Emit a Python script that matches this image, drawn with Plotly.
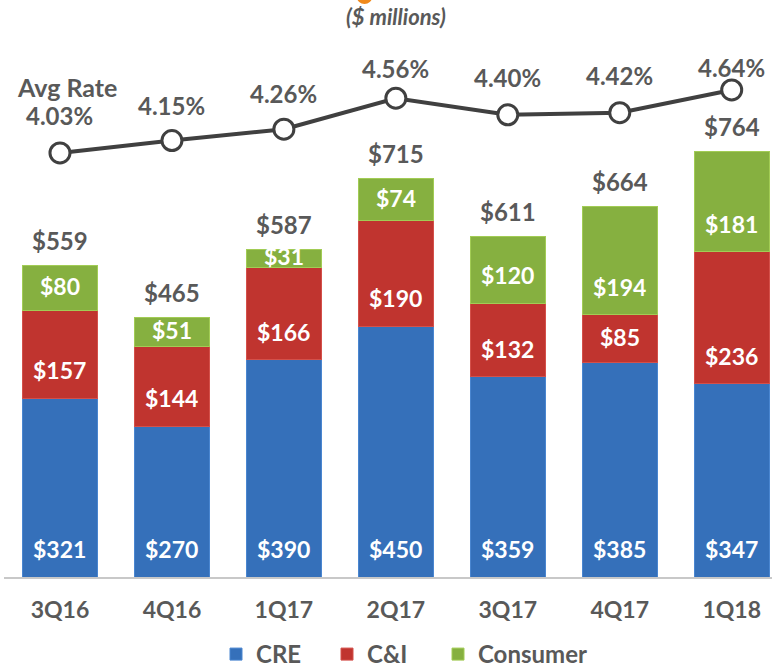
import plotly.graph_objects as go

quarters = ["3Q16", "4Q16", "1Q17", "2Q17", "3Q17", "4Q17", "1Q18"]
cre = [321, 270, 390, 450, 359, 385, 347]
cni = [157, 144, 166, 190, 132, 85, 236]
consumer = [80, 51, 31, 74, 120, 194, 181]
totals = [559, 465, 587, 715, 611, 664, 764]
avg_rate = [4.03, 4.15, 4.26, 4.56, 4.40, 4.42, 4.64]

# style
rate_label_shift = [37, 35, 36, 30, 37, 37, 22]
FONT = "Lato, 'Open Sans', sans-serif"
GRAY = "#595959"
Y1_MAX = 1035
PLOT_H = 577
PLOT_W = 768
PX_PER_UNIT = PLOT_H / Y1_MAX

fig = go.Figure()
series = [("CRE", cre, "#3570BA", "#4A86D0", 66),
          ("C&I", cni, "#C0342F", "#D4504A", 66),
          ("Consumer", consumer, "#86B040", "#A2CC55", 140)]
for name, vals, col, edge, lw in series:
    fig.add_trace(go.Bar(x=quarters, y=vals, name=name, marker_color=col,
                         marker_line=dict(color=edge, width=1), width=0.67,
                         legendwidth=lw, hoverinfo="skip"))

fig.add_trace(go.Scatter(x=quarters, y=avg_rate, yaxis="y2", mode="lines+markers",
                         line=dict(color="#404040", width=4),
                         marker=dict(size=20, color="white", line=dict(color="#404040", width=3)),
                         showlegend=False, hoverinfo="skip"))

ann = []
for i, q in enumerate(quarters):
    base = 0
    for vals in (cre, cni, consumer):
        v = vals[i]
        seg_px = v * PX_PER_UNIT
        shift = min(28, seg_px / 2 + 2)
        ann.append(dict(x=q, y=base, yref="y", text=f"${v}", showarrow=False,
                        yanchor="middle", yshift=shift,
                        font=dict(family=FONT, size=23, color="white", weight="bold")))
        base += v
    ann.append(dict(x=q, y=totals[i], yref="y", text=f"${totals[i]}", showarrow=False,
                    yanchor="middle", yshift=25,
                    font=dict(family=FONT, size=24, color=GRAY, weight="bold")))
    ann.append(dict(x=q, y=avg_rate[i], yref="y2", text=f"{avg_rate[i]:.2f}%", showarrow=False,
                    yanchor="middle", yshift=rate_label_shift[i],
                    font=dict(family=FONT, size=24, color=GRAY, weight="bold")))

ann.append(dict(x=quarters[0], y=avg_rate[0], yref="y2", text="Avg Rate", showarrow=False,
                yanchor="middle", yshift=66, xshift=7,
                font=dict(family=FONT, size=25, color=GRAY, weight="bold")))
ann.append(dict(x=0.51, y=1.0, xref="paper", yref="paper", text="<i>($ millions)</i>",
                showarrow=False, yanchor="middle", yshift=-16,
                font=dict(family=FONT, size=22, color=GRAY, weight="bold")))

# cut-off orange glyph of the title above the chart
shapes = [dict(type="circle", xref="paper", yref="paper",
               x0=(357 - 4) / PLOT_W, x1=(372 - 4) / PLOT_W,
               y0=1 + 9 / PLOT_H, y1=1 - 4 / PLOT_H,
               fillcolor="#F08A1C", line=dict(width=0))]

fig.update_layout(
    width=772, height=669,
    barmode="stack",
    paper_bgcolor="white", plot_bgcolor="white",
    margin=dict(l=4, r=0, t=0, b=92, autoexpand=False),
    font=dict(family=FONT, color=GRAY),
    xaxis=dict(range=[-0.5, 6.36], showgrid=False, showline=True, linecolor="#C8C8C8",
               linewidth=2, ticks="", automargin=False,
               tickfont=dict(family=FONT, size=23, color=GRAY, weight="bold"),
               ticklabelstandoff=11),
    yaxis=dict(range=[0, Y1_MAX], visible=False, showgrid=False, automargin=False),
    yaxis2=dict(range=[-0.075, 5.511], overlaying="y", visible=False, showgrid=False,
                automargin=False),
    legend=dict(orientation="h", x=(228 - 12 - 4) / PLOT_W, xanchor="left", y=-0.0953, yanchor="top",
                font=dict(family=FONT, size=24, color=GRAY, weight="bold"),
                itemwidth=30, traceorder="normal"),
    annotations=ann,
    shapes=shapes,
)

fig.write_html("out.html", config={"displayModeBar": False},
               post_script=("document.body.style.margin='0';"
                            "document.body.style.overflow='hidden';"))
